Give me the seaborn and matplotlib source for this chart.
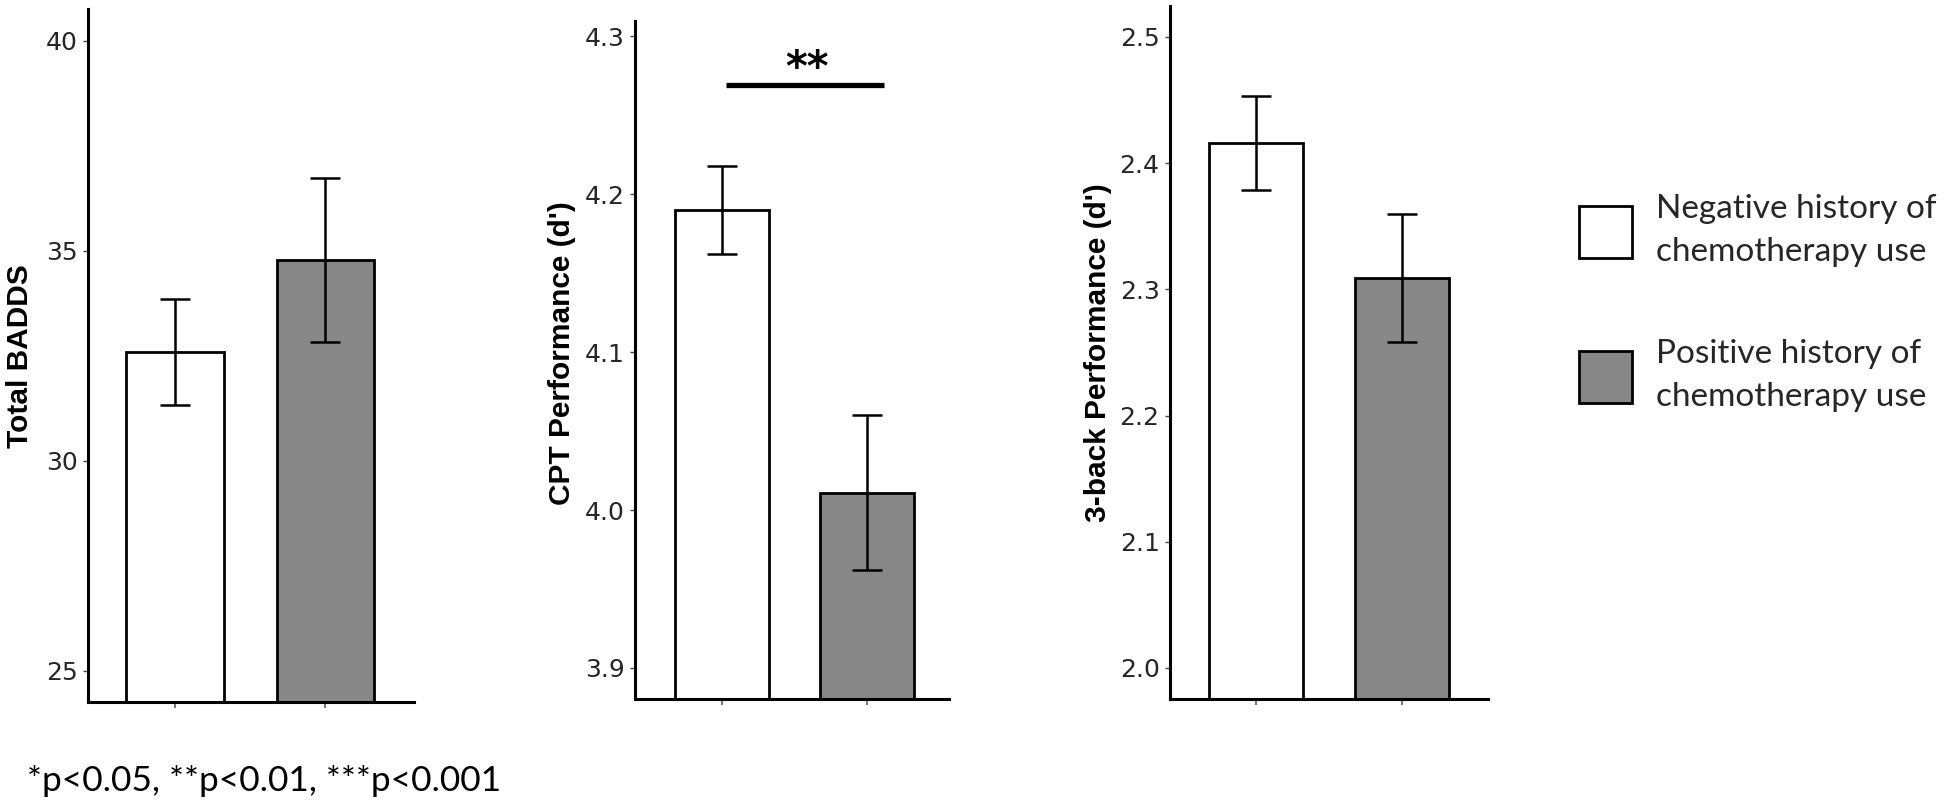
import matplotlib
matplotlib.use("Agg")
import matplotlib.pyplot as plt
import seaborn as sns
import pandas as pd
from matplotlib.patches import Patch

# groups and colours
groups = ["Negative history of\nchemotherapy use", "Positive history of\nchemotherapy use"]
bar_colors = ["white", "#878787"]

# means and standard errors
badds_mean = [32.58, 34.78]
badds_se = [1.26, 1.96]
cpt_mean = [4.190, 4.011]
cpt_se = [0.028, 0.049]
nback_mean = [2.416, 2.309]
nback_se = [0.037, 0.051]

ylabels = ["Total BADDS", "CPT Performance (d')", "3-back Performance (d')"]
yticks = [[25, 30, 35, 40], [3.9, 4.0, 4.1, 4.2, 4.3], [2.0, 2.1, 2.2, 2.3, 2.4, 2.5]]
ylims = [(24.25, 40.75), (3.880, 4.310), (1.975, 2.5245)]
tick_fmt = ["{:.0f}", "{:.1f}", "{:.1f}"]

sig_label = "**"
sig_y = 4.269
footnote = "*p<0.05, **p<0.01, ***p<0.001"

# layout
rects = [[0.0451, 0.1312, 0.1672, 0.8573],
         [0.3256, 0.1343, 0.1610, 0.8402],
         [0.6000, 0.1343, 0.1631, 0.8583]]
xlims = [(-0.58, 1.59), (-0.60, 1.566), (-0.59, 1.59)]
label_xy = [(-0.166, 0.5), (-0.188, 0.51), (-0.182, 0.5)]

sns.set_theme(style="white")
plt.rcParams["font.family"] = ["Liberation Sans", "DejaVu Sans"]

fig = plt.figure(figsize=(19.5, 8.08), dpi=100)

panels = [(badds_mean, badds_se), (cpt_mean, cpt_se), (nback_mean, nback_se)]
axes = []
for i, (means, ses) in enumerate(panels):
    ax = fig.add_axes(rects[i])
    df = pd.DataFrame({"group": groups, "value": means})
    sns.barplot(data=df, x="group", y="value", hue="group", palette=bar_colors,
                order=groups, hue_order=groups, width=0.65, edgecolor="black",
                linewidth=2.0, legend=False, ax=ax)
    ax.errorbar(range(len(means)), means, yerr=ses, fmt="none", ecolor="black",
                elinewidth=1.8, capsize=11, capthick=1.8, zorder=5)
    ax.set_xlim(*xlims[i])
    ax.set_ylim(*ylims[i])
    ax.set_yticks(yticks[i])
    ax.set_yticklabels([tick_fmt[i].format(t) for t in yticks[i]], fontsize=18,
                       color="#262626", family="DejaVu Sans")
    ax.set_xticks(range(len(means)))
    ax.set_xticklabels([])
    ax.set_xlabel("")
    ax.set_ylabel(ylabels[i], fontsize=21.5, fontweight="bold", color="black")
    ax.yaxis.set_label_coords(*label_xy[i])
    sns.despine(ax=ax)
    for side in ["left", "bottom"]:
        ax.spines[side].set_linewidth(2.2)
        ax.spines[side].set_color("black")
    ax.tick_params(axis="y", left=True, length=3.5, width=1, color="#444444", pad=4)
    ax.tick_params(axis="x", bottom=True, length=4, width=1.5, color="#777777")
    axes.append(ax)

# significance marker on the CPT panel
ax2 = axes[1]
ax2.plot([0.03, 1.12], [sig_y, sig_y], color="black", lw=3.8, solid_capstyle="butt", clip_on=False)
ax2.text(0.59, sig_y + 0.0105, sig_label, ha="center", va="center", fontsize=30,
         fontweight="bold", family="DejaVu Sans", color="black")

# legend
handles = [Patch(facecolor=c, edgecolor="black", linewidth=2.0) for c in bar_colors]
leg = fig.legend(handles, groups, loc="center left", bbox_to_anchor=(0.8097, 0.625),
                 frameon=False, prop={"family": ["Lato", "DejaVu Sans"], "size": 24},
                 handlelength=1.6, handleheight=2.02, handletextpad=0.7, labelspacing=2.16,
                 borderpad=0, borderaxespad=0)
for t in leg.get_texts():
    t.set_linespacing(1.55)

fig.text(0.0138, 0.0334, footnote, ha="left", va="center", fontsize=25.5,
         family=["Lato", "DejaVu Sans"], color="black")

fig.savefig("out.png", dpi=100)
